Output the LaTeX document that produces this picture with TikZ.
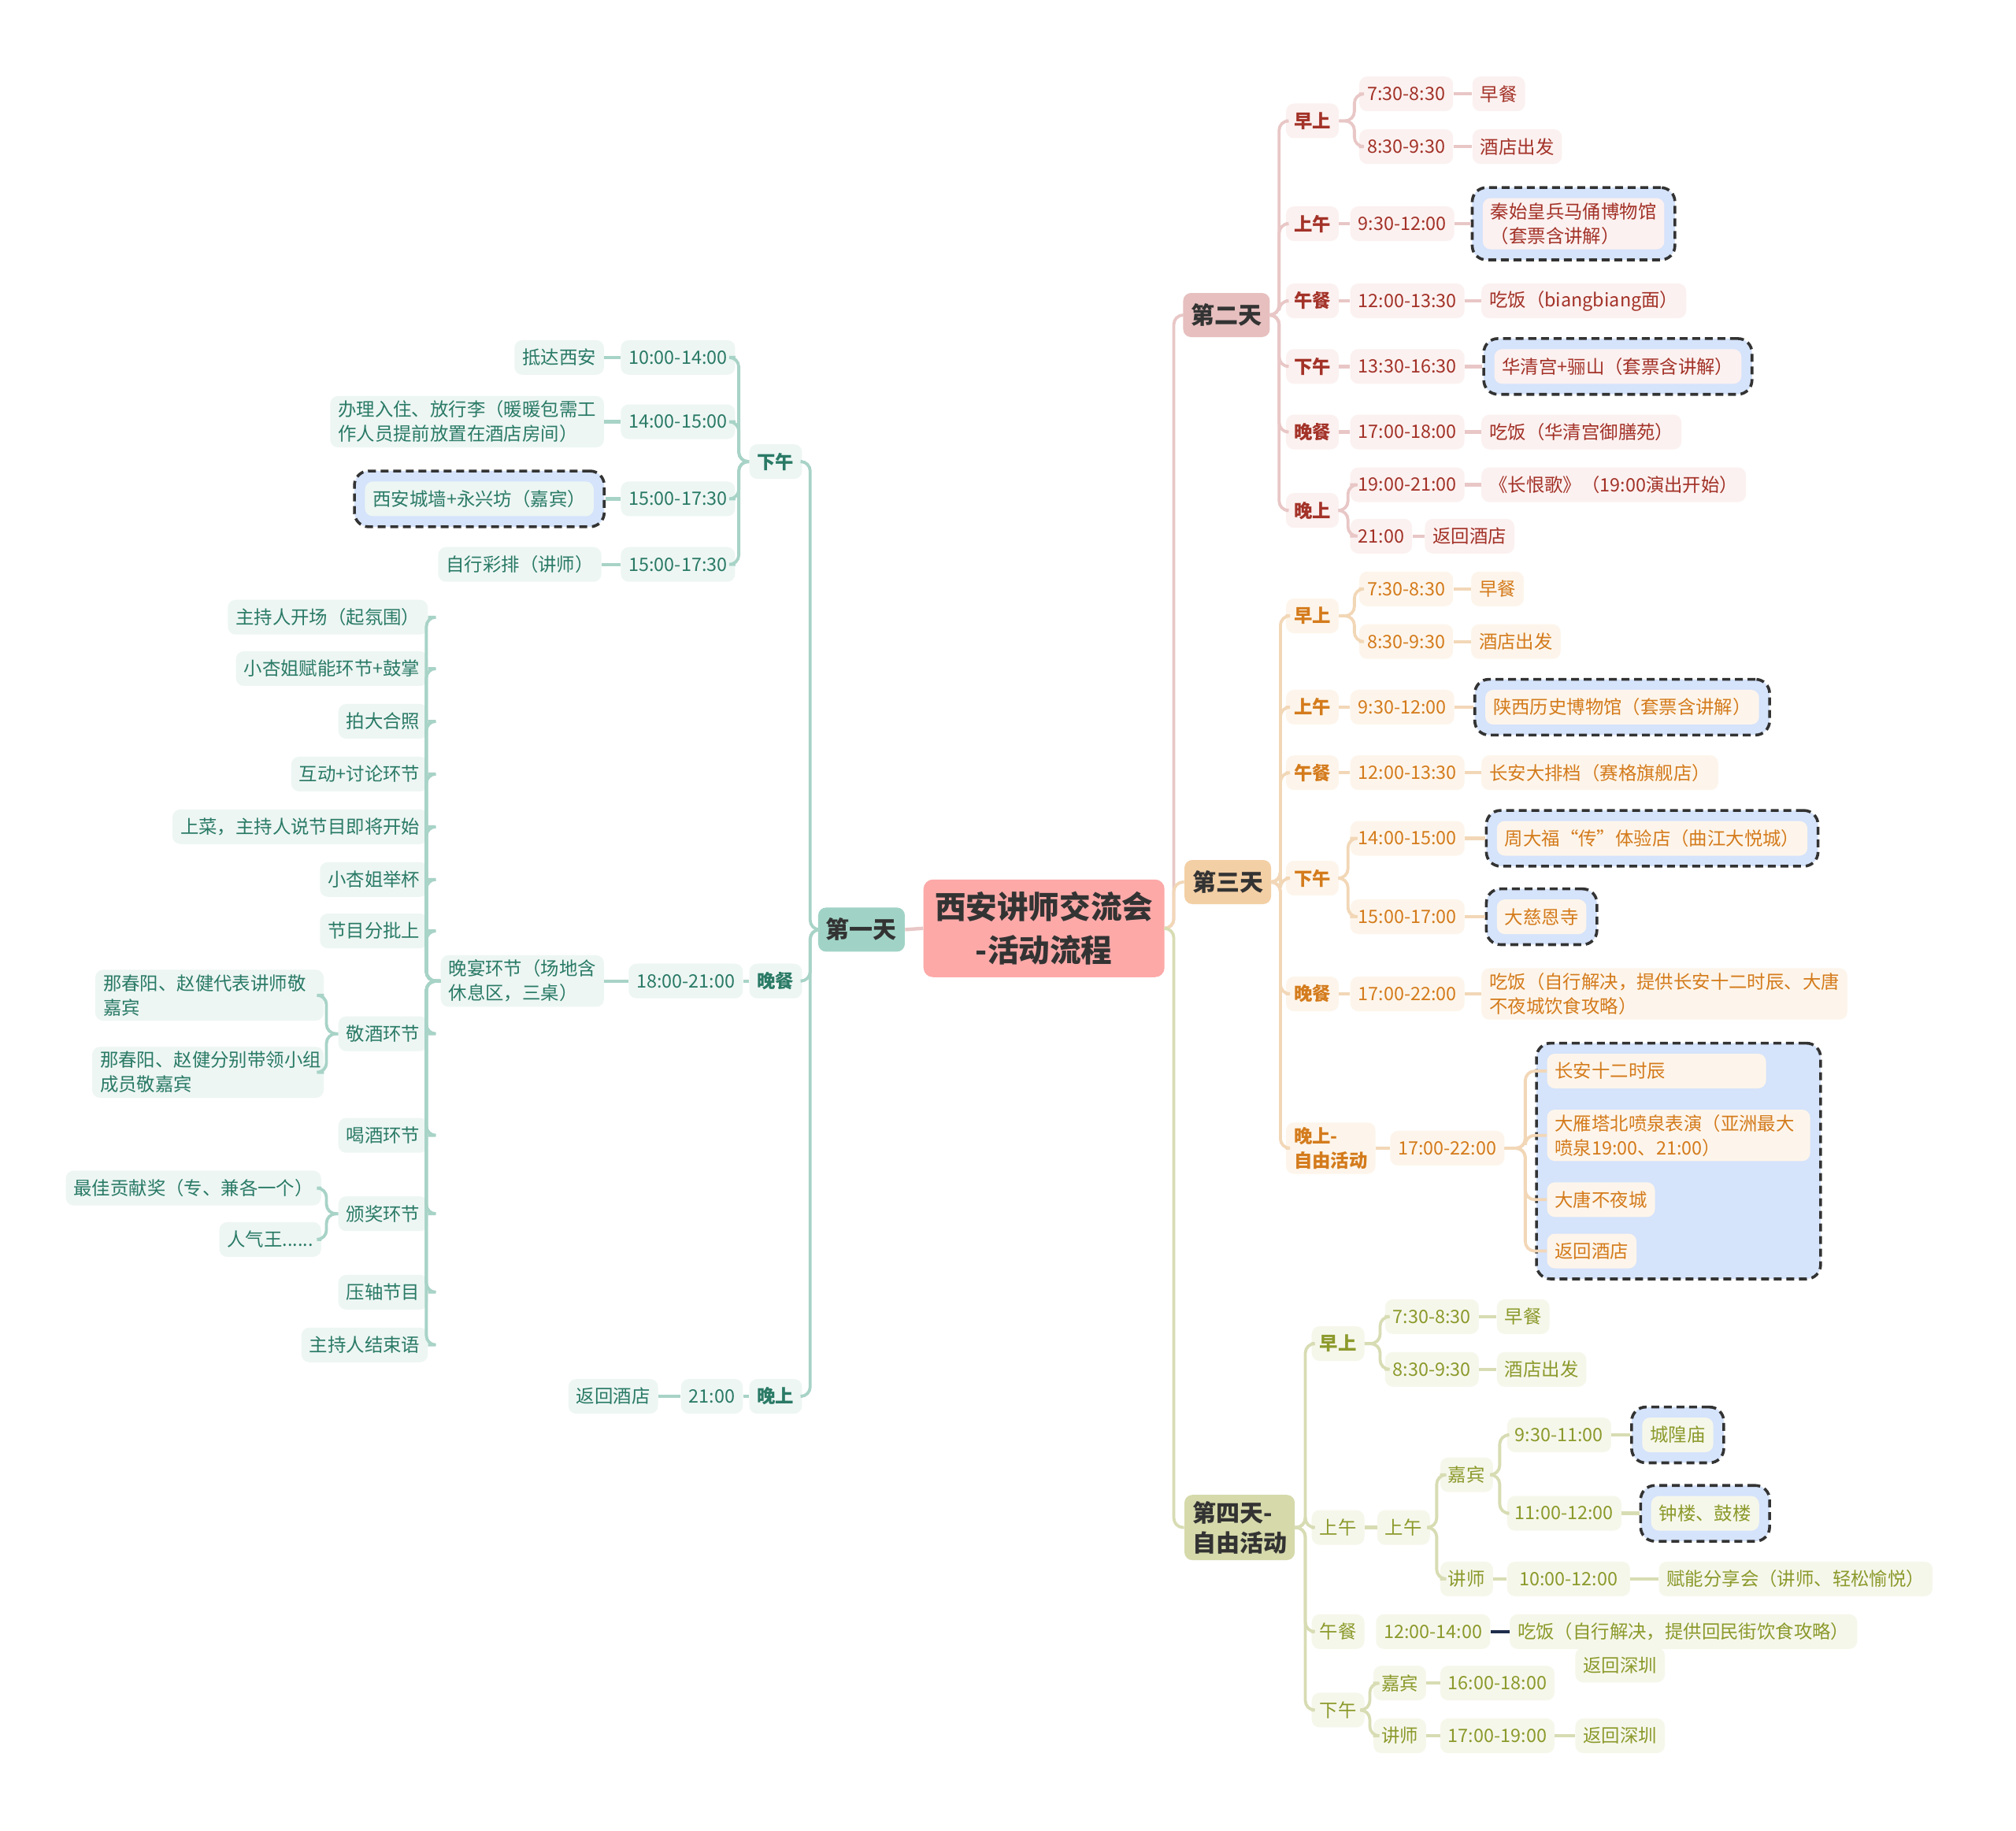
\documentclass[tikz,border=0pt]{standalone}
\usepackage{fontspec}
\setmainfont{Noto Sans CJK SC}
\usetikzlibrary{fit,backgrounds}

\definecolor{rootfill}{HTML}{FCA9A8}
\definecolor{dark}{HTML}{333333}
\definecolor{tealhd}{HTML}{A0D3C6}
\definecolor{tealbg}{HTML}{EDF6F3}
\definecolor{tealtx}{HTML}{2A7A66}
\definecolor{tealln}{HTML}{A8D3C7}
\definecolor{redhd}{HTML}{E7BFBF}
\definecolor{redbg}{HTML}{FBF1F0}
\definecolor{redtx}{HTML}{A33228}
\definecolor{redln}{HTML}{E8C7C6}
\definecolor{orghd}{HTML}{F3CFA5}
\definecolor{orgbg}{HTML}{FDF5EB}
\definecolor{orgtx}{HTML}{D47B1C}
\definecolor{orgln}{HTML}{F2D7B7}
\definecolor{olvhd}{HTML}{D6D9AA}
\definecolor{olvbg}{HTML}{F6F7EB}
\definecolor{olvtx}{HTML}{8C9A2C}
\definecolor{olvln}{HTML}{D8DCB3}
\definecolor{dashbg}{HTML}{D5E3FB}
\definecolor{navy}{HTML}{1E2D4C}

\tikzset{
  lbl/.style={rounded corners=5pt, inner xsep=5pt, inner ysep=3pt, minimum height=22pt,
    align=left, font=\fontsize{11.7}{15.5}\selectfont},
  lblb/.style={lbl, font=\fontsize{11.7}{15.5}\selectfont\bfseries},
  hd/.style={rounded corners=5pt, inner xsep=5pt, inner ysep=4pt, minimum height=28pt,
    align=left, text=dark, font=\fontsize{15}{19}\selectfont\bfseries},
  tealnd/.style={lbl, fill=tealbg, text=tealtx},
  tealbd/.style={lblb, fill=tealbg, text=tealtx},
  rednd/.style={lbl, fill=redbg, text=redtx},
  redbd/.style={lblb, fill=redbg, text=redtx},
  orgnd/.style={lbl, fill=orgbg, text=orgtx},
  orgbd/.style={lblb, fill=orgbg, text=orgtx},
  olvnd/.style={lbl, fill=olvbg, text=olvtx},
  olvbd/.style={lblb, fill=olvbg, text=olvtx},
  dbox/.style={draw=dark, line width=1.8pt, dash pattern=on 5pt off 3pt, fill=dashbg,
    rounded corners=9pt, inner sep=6.5pt},
  tealcn/.style={draw=tealln, line width=2.2pt},
  redcn/.style={draw=redln, line width=2.2pt},
  orgcn/.style={draw=orgln, line width=2.2pt},
  olvcn/.style={draw=olvln, line width=2.2pt},
  tealbr/.style={tealcn, line width=1.9pt, rounded corners=6pt},
  redbr/.style={redcn, line width=1.9pt, rounded corners=6pt},
  orgbr/.style={orgcn, line width=1.9pt, rounded corners=6pt},
  olvbr/.style={olvcn, line width=1.9pt, rounded corners=6pt},
}

\begin{document}
\begin{tikzpicture}[x=0.8163pt, y=-0.8163pt]
  \useasboundingbox (0,0) rectangle (1568,1424);

  % centre
  \node[rounded corners=6pt, fill=rootfill, text=dark, align=center, minimum width=153pt,
    minimum height=62pt, font=\fontsize{19.8}{27.5}\selectfont\bfseries]
    (root) at (812,722) {西安讲师交流会\\-活动流程};

  % ---------------- day one (left) ----------------
  \node[hd, fill=tealhd, anchor=east] (d1) at (704,723) {第一天};
  \node[tealbd, anchor=east] (d1a) at (624,359) {下午};
  \node[tealbd, anchor=east] (d1b) at (624,763) {晚餐};
  \node[tealbd, anchor=east] (d1c) at (624,1086) {晚上};

  \node[tealnd, anchor=east] (d1a1) at (572,278) {10:00-14:00};
  \node[tealnd, anchor=east] (d1a1x) at (470,278) {抵达西安};
  \node[tealnd, anchor=east] (d1a2) at (572,328) {14:00-15:00};
  \node[tealnd, anchor=east] (d1a2x) at (470,328) {办理入住、放行李（暖暖包需工\\作人员提前放置在酒店房间）};
  \node[tealnd, anchor=east] (d1a3) at (572,388) {15:00-17:30};
  \node[tealnd, anchor=east] (d1a3x) at (462,388) {西安城墙+永兴坊（嘉宾）};
  \node[tealnd, anchor=east] (d1a4) at (572,439) {15:00-17:30};
  \node[tealnd, anchor=east] (d1a4x) at (468,439) {自行彩排（讲师）};

  \node[tealnd, anchor=east] (d1b1) at (578,763) {18:00-21:00};
  \node[tealnd, anchor=east] (d1b1x) at (470,763) {晚宴环节（场地含\\休息区，三桌）};

  \node[tealnd, anchor=east] (f1) at (333,480) {主持人开场（起氛围）};
  \node[tealnd, anchor=east] (f2) at (333,520) {小杏姐赋能环节+鼓掌};
  \node[tealnd, anchor=east] (f3) at (333,561) {拍大合照};
  \node[tealnd, anchor=east] (f4) at (333,602) {互动+讨论环节};
  \node[tealnd, anchor=east] (f5) at (333,643) {上菜，主持人说节目即将开始};
  \node[tealnd, anchor=east] (f6) at (333,684) {小杏姐举杯};
  \node[tealnd, anchor=east] (f7) at (333,724) {节目分批上};
  \node[tealnd, anchor=east] (f8) at (333,804) {敬酒环节};
  \node[tealnd, anchor=east] (f9) at (333,883) {喝酒环节};
  \node[tealnd, anchor=east] (f10) at (333,944) {颁奖环节};
  \node[tealnd, anchor=east] (f11) at (333,1005) {压轴节目};
  \node[tealnd, anchor=east] (f12) at (333,1046) {主持人结束语};

  \node[tealnd, anchor=east, text width=135pt] (f8a) at (252,774) {那春阳、赵健代表讲师敬\\嘉宾};
  \node[tealnd, anchor=east, text width=137pt] (f8b) at (252,834) {那春阳、赵健分别带领小组\\成员敬嘉宾};
  \node[tealnd, anchor=east] (f10a) at (250,924) {最佳贡献奖（专、兼各一个）};
  \node[tealnd, anchor=east] (f10b) at (250,964) {人气王......};

  \node[tealnd, anchor=east] (d1c1) at (578,1086) {21:00};
  \node[tealnd, anchor=east] (d1c1x) at (512,1086) {返回酒店};

  % ---------------- day two ----------------
  \node[hd, fill=redhd, anchor=west] (d2) at (920,245) {第二天};
  \node[redbd, anchor=west] (d2a) at (1000,94) {早上};
  \node[rednd, anchor=west] (d2a1) at (1057,73) {7:30-8:30};
  \node[rednd, anchor=west] (d2a1x) at (1145,73) {早餐};
  \node[rednd, anchor=west] (d2a2) at (1057,114) {8:30-9:30};
  \node[rednd, anchor=west] (d2a2x) at (1145,114) {酒店出发};
  \node[redbd, anchor=west] (d2b) at (1000,174) {上午};
  \node[rednd, anchor=west] (d2b1) at (1050,174) {9:30-12:00};
  \node[rednd, anchor=west] (d2b1x) at (1153,174) {秦始皇兵马俑博物馆\\（套票含讲解）};
  \node[redbd, anchor=west] (d2c) at (1000,234) {午餐};
  \node[rednd, anchor=west] (d2c1) at (1050,234) {12:00-13:30};
  \node[rednd, anchor=west] (d2c1x) at (1152,234) {吃饭（biangbiang面）};
  \node[redbd, anchor=west] (d2d) at (1000,285) {下午};
  \node[rednd, anchor=west] (d2d1) at (1050,285) {13:30-16:30};
  \node[rednd, anchor=west] (d2d1x) at (1162,285) {华清宫+骊山（套票含讲解）};
  \node[redbd, anchor=west] (d2e) at (1000,336) {晚餐};
  \node[rednd, anchor=west] (d2e1) at (1050,336) {17:00-18:00};
  \node[rednd, anchor=west] (d2e1x) at (1152,336) {吃饭（华清宫御膳苑）};
  \node[redbd, anchor=west] (d2f) at (1000,397) {晚上};
  \node[rednd, anchor=west] (d2f1) at (1050,377) {19:00-21:00};
  \node[rednd, anchor=west] (d2f1x) at (1152,377) {《长恨歌》（19:00演出开始）};
  \node[rednd, anchor=west] (d2f2) at (1050,417) {21:00};
  \node[rednd, anchor=west] (d2f2x) at (1108,417) {返回酒店};

  % ---------------- day three ----------------
  \node[hd, fill=orghd, anchor=west] (d3) at (921,686) {第三天};
  \node[orgbd, anchor=west] (d3a) at (1000,479) {早上};
  \node[orgnd, anchor=west] (d3a1) at (1057,458) {7:30-8:30};
  \node[orgnd, anchor=west] (d3a1x) at (1144,458) {早餐};
  \node[orgnd, anchor=west] (d3a2) at (1057,499) {8:30-9:30};
  \node[orgnd, anchor=west] (d3a2x) at (1144,499) {酒店出发};
  \node[orgbd, anchor=west] (d3b) at (1000,550) {上午};
  \node[orgnd, anchor=west] (d3b1) at (1050,550) {9:30-12:00};
  \node[orgnd, anchor=west] (d3b1x) at (1155,550) {陕西历史博物馆（套票含讲解）};
  \node[orgbd, anchor=west] (d3c) at (1000,601) {午餐};
  \node[orgnd, anchor=west] (d3c1) at (1050,601) {12:00-13:30};
  \node[orgnd, anchor=west] (d3c1x) at (1152,601) {长安大排档（赛格旗舰店）};
  \node[orgbd, anchor=west] (d3d) at (1000,683) {下午};
  \node[orgnd, anchor=west] (d3d1) at (1050,652) {14:00-15:00};
  \node[orgnd, anchor=west] (d3d1x) at (1164,652) {周大福“传”体验店（曲江大悦城）};
  \node[orgnd, anchor=west] (d3d2) at (1050,713) {15:00-17:00};
  \node[orgnd, anchor=west] (d3d2x) at (1164,713) {大慈恩寺};
  \node[orgbd, anchor=west] (d3e) at (1000,773) {晚餐};
  \node[orgnd, anchor=west] (d3e1) at (1050,773) {17:00-22:00};
  \node[orgnd, anchor=west] (d3e1x) at (1152,773) {吃饭（自行解决，提供长安十二时辰、大唐\\不夜城饮食攻略）};
  \node[orgbd, anchor=west] (d3f) at (1000,893) {晚上-\\自由活动};
  \node[orgnd, anchor=west] (d3f1) at (1081,893) {17:00-22:00};
  \node[orgnd, anchor=west, text width=129pt] (d3g1) at (1203,833) {长安十二时辰};
  \node[orgnd, anchor=west, text width=157pt] (d3g2) at (1203,883) {大雁塔北喷泉表演（亚洲最大\\喷泉19:00、21:00）};
  \node[orgnd, anchor=west] (d3g3) at (1203,933) {大唐不夜城};
  \node[orgnd, anchor=west] (d3g4) at (1203,973) {返回酒店};

  % ---------------- day four ----------------
  \node[hd, fill=olvhd, anchor=west] (d4) at (921,1188) {第四天-\\自由活动};
  \node[olvbd, anchor=west] (d4a) at (1020,1045) {早上};
  \node[olvnd, anchor=west] (d4a1) at (1077,1024) {7:30-8:30};
  \node[olvnd, anchor=west] (d4a1x) at (1164,1024) {早餐};
  \node[olvnd, anchor=west] (d4a2) at (1077,1065) {8:30-9:30};
  \node[olvnd, anchor=west] (d4a2x) at (1164,1065) {酒店出发};
  \node[olvnd, anchor=west] (d4b) at (1020,1188) {上午};
  \node[olvnd, anchor=west] (d4b0) at (1071,1188) {上午};
  \node[olvnd, anchor=west] (d4g) at (1120,1147) {嘉宾};
  \node[olvnd, anchor=west] (d4g1) at (1172,1116) {9:30-11:00};
  \node[olvnd, anchor=west] (d4g1x) at (1277,1116) {城隍庙};
  \node[olvnd, anchor=west] (d4g2) at (1172,1177) {11:00-12:00};
  \node[olvnd, anchor=west] (d4g2x) at (1284,1177) {钟楼、鼓楼};
  \node[olvnd, anchor=west] (d4t) at (1120,1228) {讲师};
  \node[olvnd, anchor=west, minimum width=78pt] (d4t1) at (1172,1228) {10:00-12:00};
  \node[olvnd, anchor=west] (d4t1x) at (1290,1228) {赋能分享会（讲师、轻松愉悦）};
  \node[olvnd, anchor=west] (d4c) at (1020,1269) {午餐};
  \node[olvnd, anchor=west] (d4c1) at (1070,1269) {12:00-14:00};
  \node[olvnd, anchor=west] (d4c1x) at (1174,1269) {吃饭（自行解决，提供回民街饮食攻略）};
  \node[olvnd, anchor=west] (d4home) at (1225,1295) {返回深圳};
  \node[olvnd, anchor=west] (d4d) at (1020,1330) {下午};
  \node[olvnd, anchor=west] (d4dg) at (1068,1309) {嘉宾};
  \node[olvnd, anchor=west] (d4dg1) at (1120,1309) {16:00-18:00};
  \node[olvnd, anchor=west] (d4dt) at (1068,1350) {讲师};
  \node[olvnd, anchor=west] (d4dt1) at (1120,1350) {17:00-19:00};
  \node[olvnd, anchor=west] (d4dt1x) at (1225,1350) {返回深圳};

  % white page and dashed frames
  \begin{scope}[on background layer]
    \fill[white] (0,0) rectangle (1568,1424);
    \node[dbox, fit=(d1a3x)] (d1a3box) {};
    \node[dbox, fit=(d2b1x)] (d2b1box) {};
    \node[dbox, fit=(d2d1x)] (d2d1box) {};
    \node[dbox, fit=(d3b1x)] (d3b1box) {};
    \node[dbox, fit=(d3d1x)] (d3d1box) {};
    \node[dbox, fit=(d3d2x)] (d3d2box) {};
    \node[dbox, fit=(d3g1)(d3g2)(d3g3)(d3g4)] (d3gbox) {};
    \node[dbox, fit=(d4g1x)] (d4g1box) {};
    \node[dbox, fit=(d4g2x)] (d4g2box) {};
  \end{scope}

  % connectors: centre
  \draw[redcn] (root.west) -- (d1.east);
  \draw[redbr] (root.east) -- ++(7,0) |- (d2.west);
  \draw[orgbr] (root.east) -- ++(7,0) |- (d3.west);
  \draw[olvbr] (root.east) -- ++(7,0) |- (d4.west);

  % connectors: day one
  \foreach \n in {d1a,d1b,d1c}
    \draw[tealbr] (d1.west) -- ++(-6,0) |- (\n.east);
  \foreach \n in {d1a1,d1a2,d1a3,d1a4}
    \draw[tealbr] (d1a.west) -- ++(-8,0) |- (\n.east);
  \draw[tealcn] (d1a1) -- (d1a1x);
  \draw[tealcn] (d1a2) -- (d1a2x);
  \draw[tealcn] (d1a3) -- (d1a3box);
  \draw[tealcn] (d1a4) -- (d1a4x);
  \draw[tealcn] (d1b) -- (d1b1);
  \draw[tealcn] (d1b1) -- (d1b1x);
  \foreach \n in {f1,f2,f3,f4,f5,f6,f7,f8,f9,f10,f11,f12}
    \draw[tealbr] (d1b1x.west) -- ++(-11,0) |- (\n.east);
  \foreach \n in {f8a,f8b}
    \draw[tealbr] (f8.west) -- ++(-9,0) |- (\n.east);
  \foreach \n in {f10a,f10b}
    \draw[tealbr] (f10.west) -- ++(-9,0) |- (\n.east);
  \draw[tealcn] (d1c) -- (d1c1);
  \draw[tealcn] (d1c1) -- (d1c1x);

  % connectors: day two
  \foreach \n in {d2a,d2b,d2c,d2d,d2e,d2f}
    \draw[redbr] (d2.east) -- ++(7,0) |- (\n.west);
  \foreach \n in {d2a1,d2a2}
    \draw[redbr] (d2a.east) -- ++(12,0) |- (\n.west);
  \foreach \n in {d2f1,d2f2}
    \draw[redbr] (d2f.east) -- ++(7,0) |- (\n.west);
  \draw[redcn] (d2a1) -- (d2a1x);
  \draw[redcn] (d2a2) -- (d2a2x);
  \draw[redcn] (d2b) -- (d2b1);
  \draw[redcn] (d2b1) -- (d2b1box);
  \draw[redcn] (d2c) -- (d2c1);
  \draw[redcn] (d2c1) -- (d2c1x);
  \draw[redcn] (d2d) -- (d2d1);
  \draw[redcn] (d2d1) -- (d2d1box);
  \draw[redcn] (d2e) -- (d2e1);
  \draw[redcn] (d2e1) -- (d2e1x);
  \draw[redcn] (d2f1) -- (d2f1x);
  \draw[redcn] (d2f2) -- (d2f2x);

  % connectors: day three
  \foreach \n in {d3a,d3b,d3c,d3d,d3e,d3f}
    \draw[orgbr] (d3.east) -- ++(7,0) |- (\n.west);
  \foreach \n in {d3a1,d3a2}
    \draw[orgbr] (d3a.east) -- ++(12,0) |- (\n.west);
  \foreach \n in {d3d1,d3d2}
    \draw[orgbr] (d3d.east) -- ++(7,0) |- (\n.west);
  \foreach \n in {d3g1,d3g2,d3g3,d3g4}
    \draw[orgbr] (d3f1.east) -- ++(16,0) |- (\n.west);
  \draw[orgcn] (d3a1) -- (d3a1x);
  \draw[orgcn] (d3a2) -- (d3a2x);
  \draw[orgcn] (d3b) -- (d3b1);
  \draw[orgcn] (d3b1) -- (d3b1box);
  \draw[orgcn] (d3c) -- (d3c1);
  \draw[orgcn] (d3c1) -- (d3c1x);
  \draw[orgcn] (d3d1) -- (d3d1box);
  \draw[orgcn] (d3d2) -- (d3d2box);
  \draw[orgcn] (d3e) -- (d3e1);
  \draw[orgcn] (d3e1) -- (d3e1x);
  \draw[orgcn] (d3f) -- (d3f1);

  % connectors: day four
  \foreach \n in {d4a,d4b,d4c,d4d}
    \draw[olvbr] (d4.east) -- ++(8,0) |- (\n.west);
  \foreach \n in {d4a1,d4a2}
    \draw[olvbr] (d4a.east) -- ++(12,0) |- (\n.west);
  \draw[olvcn] (d4a1) -- (d4a1x);
  \draw[olvcn] (d4a2) -- (d4a2x);
  \draw[olvcn] (d4b) -- (d4b0);
  \foreach \n in {d4g,d4t}
    \draw[olvbr] (d4b0.east) -- ++(5,0) |- (\n.west);
  \foreach \n in {d4g1,d4g2}
    \draw[olvbr] (d4g.east) -- ++(5,0) |- (\n.west);
  \draw[olvcn] (d4g1) -- (d4g1box);
  \draw[olvcn] (d4g2) -- (d4g2box);
  \draw[olvcn] (d4t) -- (d4t1);
  \draw[olvcn] (d4t1) -- (d4t1x);
  \draw[navy, line width=2.2pt] (d4c1) -- (d4c1x);
  \foreach \n in {d4dg,d4dt}
    \draw[olvbr] (d4d.east) -- ++(4,0) |- (\n.west);
  \draw[olvcn] (d4dg) -- (d4dg1);
  \draw[olvcn] (d4dt) -- (d4dt1);
  \draw[olvcn] (d4dt1) -- (d4dt1x);
\end{tikzpicture}
\end{document}
